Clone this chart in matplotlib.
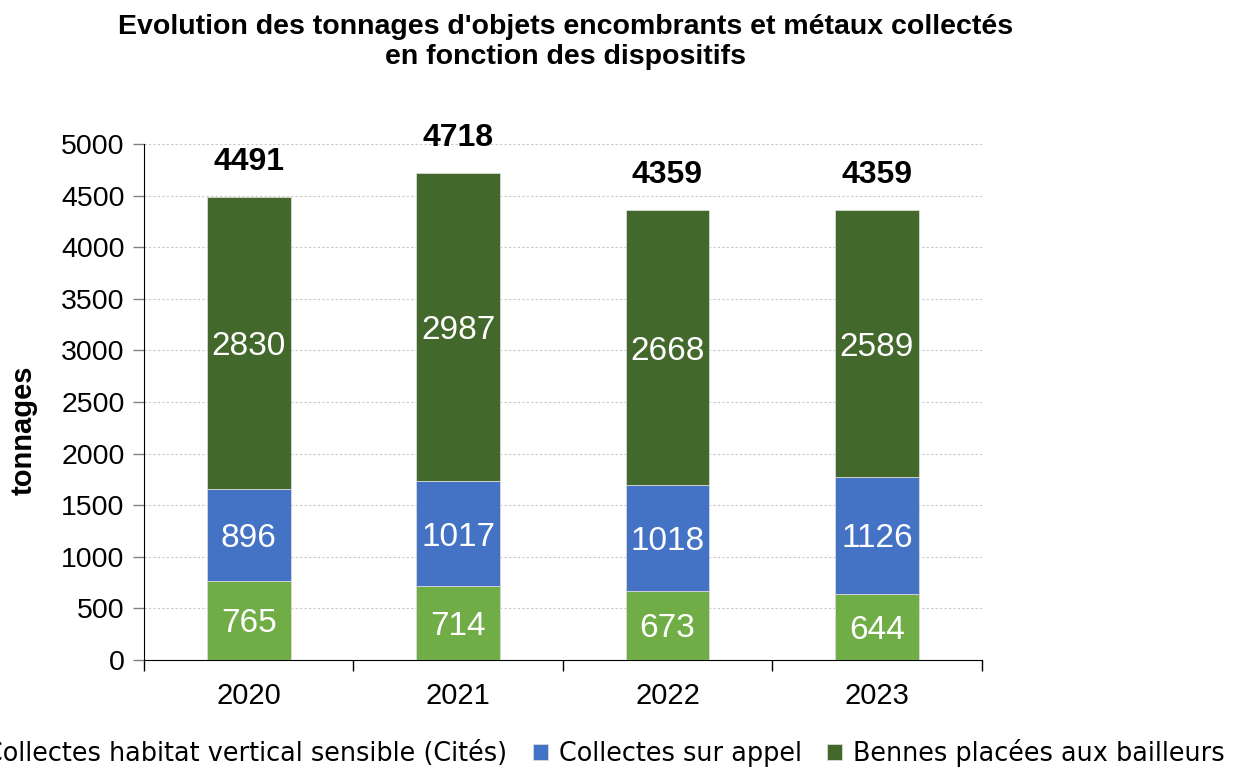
import numpy as np
import matplotlib
matplotlib.use('Agg')
from matplotlib import pyplot as plt

plt.rcParams['font.family'] = ['Liberation Sans', 'DejaVu Sans']

years = ['2020', '2021', '2022', '2023']
cites = [765, 714, 673, 644]
appel = [896, 1017, 1018, 1126]
bennes = [2830, 2987, 2668, 2589]
totals = [4491, 4718, 4359, 4359]

series_names = ['Collectes habitat vertical sensible (Cités)',
                'Collectes sur appel',
                'Bennes placées aux bailleurs']
colors = ['#70AD47', '#4472C4', '#43682B']

fig = plt.figure(figsize=(12.49, 7.7), dpi=100)
ax = fig.add_axes([0.1153, 0.1429, 0.6706, 0.6701])

x = np.arange(len(years))
bottom = np.zeros(len(years))
for vals, name, col in zip([cites, appel, bennes], series_names, colors):
    ax.bar(x, vals, 0.4, bottom=bottom, color=col, label=name,
           edgecolor='#d9d9d9', linewidth=0.6, zorder=3)
    for xi, b, v in zip(x, bottom, vals):
        ax.annotate(str(v), (xi, b + v / 2), xytext=(0, -2.5), textcoords='offset points',
                    ha='center', va='center', color='white', fontsize=24, zorder=4)
    bottom += np.array(vals)

# totaux au-dessus des barres
for xi, t, top in zip(x, totals, bottom):
    ax.annotate(str(t), (xi, top), xytext=(0, 25), textcoords='offset points',
                ha='center', va='center', fontsize=23, fontweight='bold')

ax.set_xlim(-0.5, 3.5)
ax.set_ylim(0, 5000)
ax.set_yticks(np.arange(0, 5001, 500))
ax.set_xticks(x)
ax.set_xticklabels(years)
ax.set_xticks(np.arange(-0.5, 4, 1), minor=True)
ax.tick_params(axis='x', which='major', length=0, labelsize=21, pad=16)
ax.tick_params(axis='x', which='minor', length=8, width=1, direction='out')
ax.tick_params(axis='y', length=8, width=1, direction='out', labelsize=20.5, pad=6, color='#808080')
ax.yaxis.grid(True, linestyle=(0, (2, 2)), color='#c8c8c8', linewidth=0.8, zorder=0)
ax.spines['top'].set_visible(False)
ax.spines['right'].set_visible(False)
ax.set_ylabel('tonnages', fontsize=21, fontweight='bold', va='center')
ax.yaxis.set_label_coords(-0.144, 0.446)

fig.text(0.4525, 0.982, "Evolution des tonnages d'objets encombrants et métaux collectés\nen fonction des dispositifs",
         ha='center', va='top', fontsize=20.5, fontweight='bold', linespacing=1.22)

fig.legend(loc='center', bbox_to_anchor=(0.474, 0.022), ncol=3, frameon=False,
           prop={'family': ['Liberation Sans Narrow', 'DejaVu Sans'], 'size': 18.4},
           handlelength=0.6, handleheight=0.6, handletextpad=0.4, columnspacing=1.0)

fig.savefig('out.png', dpi=100)
